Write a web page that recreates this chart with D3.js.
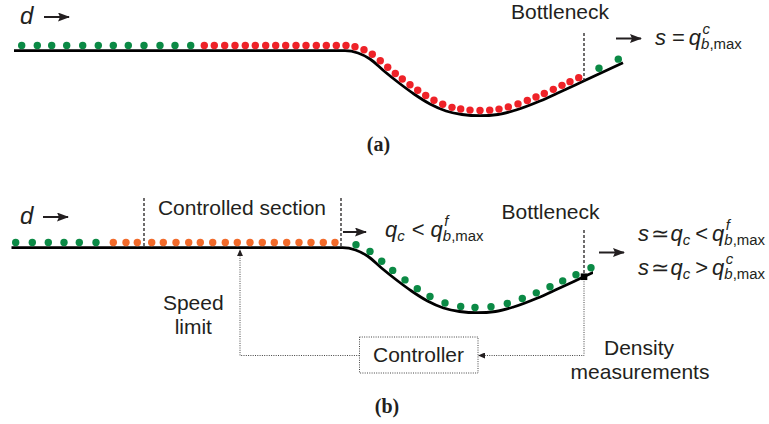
<!DOCTYPE html>
<html><head><meta charset="utf-8">
<script src="https://cdn.jsdelivr.net/npm/d3@7"></script>
<style>body{margin:0;background:#fff}svg{display:block}</style>
</head><body>
<svg id="c" width="769" height="424"></svg>
<script>
// ---- data (distance along road, depth of road profile) ----
const roadDist  = [0, 331, 344, 356, 370, 385, 400, 416, 432, 448, 466, 484, 502, 526, 546, 567, 609];
const roadDepth = [0, 0, 2.3, 8.3, 20.3, 32.3, 43.3, 53.3, 60.3, 63.8, 65, 63.8, 59.3, 50.3, 41.3, 31.6, 12];

// panel (a) vehicles (distance positions)
const dotsAGreenUp   = [7.7, 23.3, 37.7, 52.7, 68.7, 84.3, 99.3, 114.3, 130, 146, 161, 176.7];
const dotsARed       = [190.3, 200.3, 210.7, 221, 231.3, 241.3, 251.7, 261.7, 271.7, 282, 292, 302.3, 312.3, 322.3, 332,
                        341, 350, 358.3, 366.3, 373.7, 381.3, 388.3, 396, 403.7, 411.7, 420, 428.7, 438, 446.7, 456, 466,
                        475.7, 485, 494.3, 504, 513.3, 522, 530.3, 539.3, 548, 556, 564.7];
const dotsAGreenDown = [585, 604.3];

// panel (b) vehicles
const dotsBGreenUp   = [4.2, 20.8, 36.8, 52.5, 67.8, 84.5];
const dotsBOrange    = [101.8, 114.5, 125.8, 140.2, 151.8, 164.5, 177.2, 188.8, 201.2, 213.8, 225.8, 238.5, 250.8,
                        262.8, 275.2, 287.5, 299.5, 311.8, 323.5];
const dotsBGreenDown = [344.5, 358.5, 370.2, 381.2, 393.5, 405.8, 418.5, 433.5, 449.2, 463.5, 479.5, 495.8, 510.8,
                        524.8, 538.5, 551.2, 564.5, 579.5];

const bottleneckA = 570, bottleneckB = 572.5;
const controlledSection = [132.5, 329.5];
const speedLimitAt = 228.5;
const roadEndB = 581.5;

const labels = {
  bottleneck: "Bottleneck", controlled: "Controlled section", speed: ["Speed", "limit"],
  controller: "Controller", density: ["Density", "measurements"], a: "(a)", b: "(b)"
};

// ---- drawing ----
const svg = d3.select("#c");
const INK = "#231f20", GREEN = "#0b8a45", RED = "#ee2228", ORANGE = "#f26a2a";
const SANS = "'Liberation Sans', Arial, Helvetica, sans-serif";

const defs = svg.append("defs");
defs.append("marker").attr("id", "ah").attr("markerUnits", "userSpaceOnUse")
  .attr("markerWidth", 12).attr("markerHeight", 9).attr("refX", 11).attr("refY", 4.5).attr("orient", "auto")
  .append("path").attr("d", "M0,0L12,4.5L0,9L2,4.5Z").attr("fill", INK);
defs.append("marker").attr("id", "ahs").attr("markerUnits", "userSpaceOnUse")
  .attr("markerWidth", 7).attr("markerHeight", 6).attr("refX", 6).attr("refY", 3).attr("orient", "auto")
  .append("path").attr("d", "M0,0L7,3L0,6Z").attr("fill", INK);

const profile = roadDist.map((d, i) => [d, roadDepth[i]]);

function makeSampler(node) {
  const L = node.getTotalLength(), pts = [];
  for (let l = 0; l <= L; l += 0.5) pts.push(node.getPointAtLength(l));
  const bis = d3.bisector(p => p.x).left;
  return function (x) {
    let i = Math.max(1, Math.min(pts.length - 1, bis(pts, x)));
    const a = pts[i - 1], b = pts[i];
    const t = (x - a.x) / ((b.x - a.x) || 1);
    const a2 = pts[Math.max(0, i - 4)], b2 = pts[Math.min(pts.length - 1, i + 4)];
    let tx = b2.x - a2.x, ty = b2.y - a2.y; const n = Math.hypot(tx, ty) || 1;
    return { x: x, y: a.y + t * (b.y - a.y), tx: tx / n, ty: ty / n };
  };
}
function placeDot(sample, X, off) {
  let fx = X, p;
  for (let k = 0; k < 6; k++) { p = sample(fx); fx = X - p.ty * off; }
  p = sample(fx);
  return [p.x + p.ty * off, p.y - p.tx * off];
}

function road(g, x, y, clipEnd, id) {
  const line = d3.line().x(d => x(d[0])).y(d => y(d[1])).curve(d3.curveMonotoneX);
  const p = g.append("path").attr("d", line(profile)).attr("fill", "none")
    .attr("stroke", "#000").attr("stroke-width", 2.8);
  if (clipEnd != null) {
    defs.append("clipPath").attr("id", id).append("rect")
      .attr("x", 0).attr("y", 0).attr("width", x(clipEnd)).attr("height", 424);
    p.attr("clip-path", `url(#${id})`);
  }
  return makeSampler(p.node());
}
function dots(g, sample, x, arr, color) {
  g.selectAll(null).data(arr).enter().append("circle")
    .attr("cx", d => placeDot(sample, x(d), 5.2)[0])
    .attr("cy", d => placeDot(sample, x(d), 5.2)[1])
    .attr("r", 3.7).attr("fill", color);
}
function arrow(x1, y1, x2, y2) {
  svg.append("line").attr("x1", x1).attr("y1", y1).attr("x2", x2 - 3).attr("y2", y2)
    .attr("stroke", INK).attr("stroke-width", 2).attr("marker-end", "url(#ah)");
}
function txt(x, y, s, opt = {}) {
  return svg.append("text").attr("x", x).attr("y", y).text(s)
    .attr("font-family", opt.family || SANS).attr("font-size", opt.size || 21)
    .attr("font-style", opt.italic ? "italic" : null).attr("font-weight", opt.bold ? "bold" : null)
    .attr("text-anchor", opt.anchor || "start").attr("fill", INK);
}
// math: pieces = {t, i} | {gap} | {sup, sub}
function math(x, y, pieces, size = 22) {
  let cx = x; const ss = size * 0.68;
  pieces.forEach(p => {
    if (p.gap != null) { cx += p.gap; return; }
    if (p.t != null) {
      const e = txt(cx, y, p.t, { size, italic: p.i });
      cx += e.node().getComputedTextLength(); return;
    }
    let w = 0;
    if (p.sup) {
      const e = txt(cx + 1.5, y - size * 0.52, p.sup, { size: ss, italic: true });
      w = Math.max(w, e.node().getComputedTextLength() + 1.5);
    }
    if (p.sub) {
      const e = svg.append("text").attr("x", cx).attr("y", y + size * 0.2)
        .attr("font-family", SANS).attr("font-size", ss).attr("fill", INK);
      p.sub.forEach(s => e.append("tspan").text(s[0]).attr("font-style", s[1] ? "italic" : "normal"));
      w = Math.max(w, e.node().getComputedTextLength());
    }
    cx += w;
  });
}

// ---------- Panel (a) ----------
const xA = d3.scaleLinear().domain([0, 609]).range([14, 623]);
const yA = d3.scaleLinear().domain([0, 65]).range([50.7, 115.7]);
const gA = svg.append("g");
const sA = road(gA, xA, yA, null);
dots(gA, sA, xA, dotsAGreenUp, GREEN);
dots(gA, sA, xA, dotsARed, RED);
dots(gA, sA, xA, dotsAGreenDown, GREEN);
const bnA = sA(xA(bottleneckA));
svg.append("line").attr("x1", bnA.x).attr("x2", bnA.x).attr("y1", 33).attr("y2", bnA.y)
  .attr("stroke", INK).attr("stroke-width", 1.3).attr("stroke-dasharray", "3,2");

txt(20, 23.5, "d", { italic: true, size: 24 });
arrow(44, 17, 72, 17);
txt(560, 18.5, labels.bottleneck, { anchor: "middle" });
arrow(616, 38.5, 644, 38.5);
math(655, 45, [{ t: "s", i: 1 }, { gap: 6 }, { t: "=" }, { gap: 4 }, { t: "q", i: 1 },
  { sup: "c", sub: [["b", 1], [",max", 0]] }]);
txt(378.5, 151, labels.a, { family: "'Liberation Serif', 'Times New Roman', serif", bold: true, size: 20, anchor: "middle" });

// ---------- Panel (b) ----------
const xB = d3.scaleLinear().domain([0, 609]).range([11.5, 620.5]);
const yB = d3.scaleLinear().domain([0, 65]).range([247.7, 312.7]);
const gB = svg.append("g");
const sB = road(gB, xB, yB, roadEndB, "clipB");
dots(gB, sB, xB, dotsBGreenUp, GREEN);
dots(gB, sB, xB, dotsBOrange, ORANGE);
dots(gB, sB, xB, dotsBGreenDown, GREEN);

// controlled section boundaries
controlledSection.forEach(d => {
  svg.append("line").attr("x1", xB(d)).attr("x2", xB(d)).attr("y1", 198).attr("y2", yB(0))
    .attr("stroke", INK).attr("stroke-width", 1.3).attr("stroke-dasharray", "3,2");
});
// bottleneck
const bnB = sB(xB(bottleneckB));
svg.append("line").attr("x1", bnB.x).attr("x2", bnB.x).attr("y1", 230).attr("y2", bnB.y)
  .attr("stroke", INK).attr("stroke-width", 1.3).attr("stroke-dasharray", "3,2");

// feedback loop
const boxL = 359.5, boxR = 478, boxT = 337, boxB = 373, loopY = 355.5;
const dot = g => g.attr("fill", "none").attr("stroke", "#444").attr("stroke-width", 1).attr("stroke-dasharray", "1,1.3");
svg.append("path").attr("d", `M${bnB.x},${bnB.y}V${loopY}H${boxR + 1}`).call(dot).attr("marker-end", "url(#ahs)");
const slX = xB(speedLimitAt);
svg.append("path").attr("d", `M${boxL},${loopY}H${slX}V${yB(0) + 2.5}`).call(dot).attr("marker-end", "url(#ahs)");
svg.append("rect").attr("x", boxL).attr("y", boxT).attr("width", boxR - boxL).attr("height", boxB - boxT).call(dot);
svg.append("rect").attr("x", bnB.x - 3.3).attr("y", bnB.y - 3.3).attr("width", 6.6).attr("height", 6.6).attr("fill", "#000");

txt(20, 223.5, "d", { italic: true, size: 24 });
arrow(43, 217, 71, 217);
txt(242, 215, labels.controlled, { anchor: "middle" });
arrow(343, 232, 369, 232);
math(385, 237, [{ t: "q", i: 1 }, { sub: [["c", 1]] }, { gap: 7 }, { t: "<" }, { gap: 6 }, { t: "q", i: 1 },
  { sup: "f", sub: [["b", 1], [",max", 0]] }]);
txt(550.5, 219, labels.bottleneck, { anchor: "middle" });
arrow(599, 252.5, 627, 252.5);
math(638, 241, [{ t: "s", i: 1 }, { gap: 1.5 }, { t: "≃" }, { gap: 2 }, { t: "q", i: 1 }, { sub: [["c", 1]] }, { gap: 5 },
  { t: "<" }, { gap: 4 }, { t: "q", i: 1 }, { sup: "f", sub: [["b", 1], [",max", 0]] }]);
math(638, 275, [{ t: "s", i: 1 }, { gap: 1.5 }, { t: "≃" }, { gap: 2 }, { t: "q", i: 1 }, { sub: [["c", 1]] }, { gap: 5 },
  { t: ">" }, { gap: 4 }, { t: "q", i: 1 }, { sup: "c", sub: [["b", 1], [",max", 0]] }]);
txt(193.3, 310, labels.speed[0], { anchor: "middle" });
txt(193.3, 334, labels.speed[1], { anchor: "middle" });
txt(418.5, 362, labels.controller, { anchor: "middle" });
txt(639, 355, labels.density[0], { anchor: "middle" });
txt(640, 379, labels.density[1], { anchor: "middle" });
txt(387, 413, labels.b, { family: "'Liberation Serif', 'Times New Roman', serif", bold: true, size: 20, anchor: "middle" });
</script>
</body></html>
